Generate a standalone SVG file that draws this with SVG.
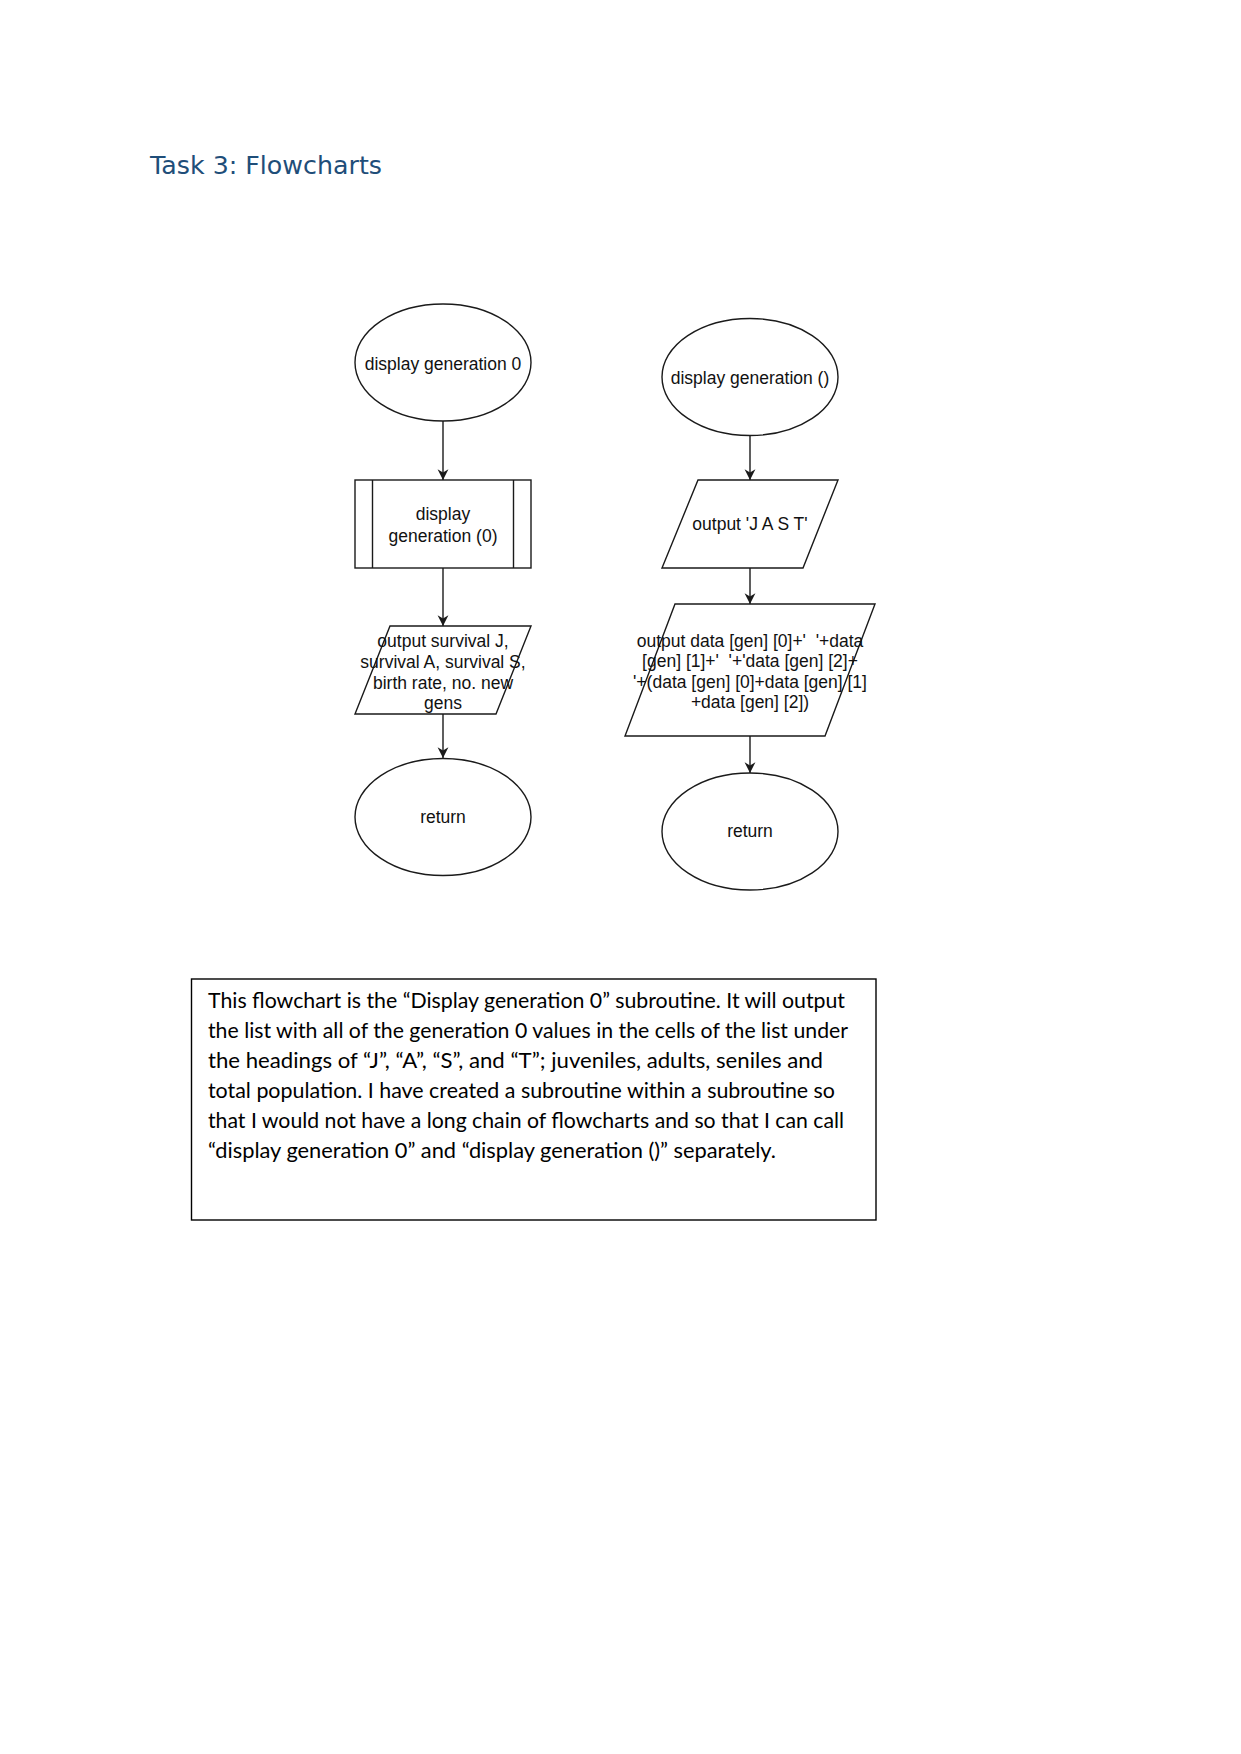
<svg xmlns="http://www.w3.org/2000/svg" width="1241" height="1754" viewBox="0 0 1241 1754">
<style>
.shape{fill:#ffffff;stroke:#1a1a1a;stroke-width:1.4}
.lbl{font-family:"Liberation Sans",Arial,sans-serif;font-size:17.5px;fill:#111111;text-anchor:middle}
.conn{stroke:#1a1a1a;stroke-width:1.4;fill:none}
.title{font-family:"DejaVu Sans",sans-serif;font-size:25.3px;fill:#1F4E79}
.body{font-family:Lato,"Liberation Sans",sans-serif;font-size:21px;fill:#000000}
</style>
<defs>
<marker id="arr" viewBox="0 0 12 12" refX="11" refY="6" markerWidth="13" markerHeight="13" markerUnits="userSpaceOnUse" orient="auto">
<path d="M1,1 L11,6 L1,11 L4,6 z" fill="#1a1a1a"/>
</marker>
</defs>
<rect x="0" y="0" width="1241" height="1754" fill="#ffffff"/>
<text class="title" x="150" y="174">Task 3: Flowcharts</text>

<g id="connectors">
<line class="conn" x1="443" y1="421" x2="443" y2="480" marker-end="url(#arr)"/>
<line class="conn" x1="443" y1="568" x2="443" y2="626" marker-end="url(#arr)"/>
<line class="conn" x1="443" y1="714" x2="443" y2="758" marker-end="url(#arr)"/>
<line class="conn" x1="750" y1="436" x2="750" y2="480" marker-end="url(#arr)"/>
<line class="conn" x1="750" y1="568" x2="750" y2="604" marker-end="url(#arr)"/>
<line class="conn" x1="750" y1="736" x2="750" y2="773" marker-end="url(#arr)"/>
</g>

<g id="start-left">
<ellipse class="shape" cx="443" cy="362.5" rx="88" ry="58.5"/>
<text class="lbl" x="443" y="370">display generation 0</text>
</g>
<g id="sub-left">
<rect class="shape" x="355" y="480" width="176" height="88"/>
<line class="conn" x1="372.5" y1="480" x2="372.5" y2="568"/>
<line class="conn" x1="513.5" y1="480" x2="513.5" y2="568"/>
<text class="lbl" x="443" y="520">display</text>
<text class="lbl" x="443" y="542">generation (0)</text>
</g>
<g id="output-left">
<polygon class="shape" points="390,626 531,626 496,714 355,714"/>
<text class="lbl" x="443" y="647">output survival J,</text>
<text class="lbl" x="443" y="668">survival A, survival S,</text>
<text class="lbl" x="443" y="689">birth rate, no. new</text>
<text class="lbl" x="443" y="709">gens</text>
</g>
<g id="return-left">
<ellipse class="shape" cx="443" cy="817" rx="88" ry="58.5"/>
<text class="lbl" x="443" y="823">return</text>
</g>

<g id="start-right">
<ellipse class="shape" cx="750" cy="377" rx="88" ry="58.5"/>
<text class="lbl" x="750" y="384">display generation ()</text>
</g>
<g id="output-jast">
<polygon class="shape" points="698,480 838,480 803,568 662,568"/>
<text class="lbl" x="750" y="530">output 'J A S T'</text>
</g>
<g id="output-data">
<polygon class="shape" points="675,604 875,604 825,736 625,736"/>
<text class="lbl" x="750" y="647" xml:space="preserve">output data [gen] [0]+'  '+data</text>
<text class="lbl" x="750" y="667" xml:space="preserve">[gen] [1]+'  '+'data [gen] [2]+</text>
<text class="lbl" x="750" y="688">'+(data [gen] [0]+data [gen] [1]</text>
<text class="lbl" x="750" y="708">+data [gen] [2])</text>
</g>
<g id="return-right">
<ellipse class="shape" cx="750" cy="831.5" rx="88" ry="58.5"/>
<text class="lbl" x="750" y="837">return</text>
</g>

<g id="note">
<rect x="191.5" y="979" width="684.5" height="241" fill="#ffffff" stroke="#000000" stroke-width="1.4"/>
<text class="body" x="208" y="1008" textLength="637" lengthAdjust="spacingAndGlyphs">This flowchart is the “Display generation 0” subroutine. It will output</text>
<text class="body" x="208" y="1038" textLength="640" lengthAdjust="spacingAndGlyphs">the list with all of the generation 0 values in the cells of the list under</text>
<text class="body" x="208" y="1068" textLength="615" lengthAdjust="spacingAndGlyphs">the headings of “J”, “A”, “S”, and “T”; juveniles, adults, seniles and</text>
<text class="body" x="208" y="1098" textLength="627" lengthAdjust="spacingAndGlyphs">total population. I have created a subroutine within a subroutine so</text>
<text class="body" x="208" y="1128" textLength="636" lengthAdjust="spacingAndGlyphs">that I would not have a long chain of flowcharts and so that I can call</text>
<text class="body" x="208" y="1158" textLength="568" lengthAdjust="spacingAndGlyphs">“display generation 0” and “display generation ()” separately.</text>
</g>
</svg>
